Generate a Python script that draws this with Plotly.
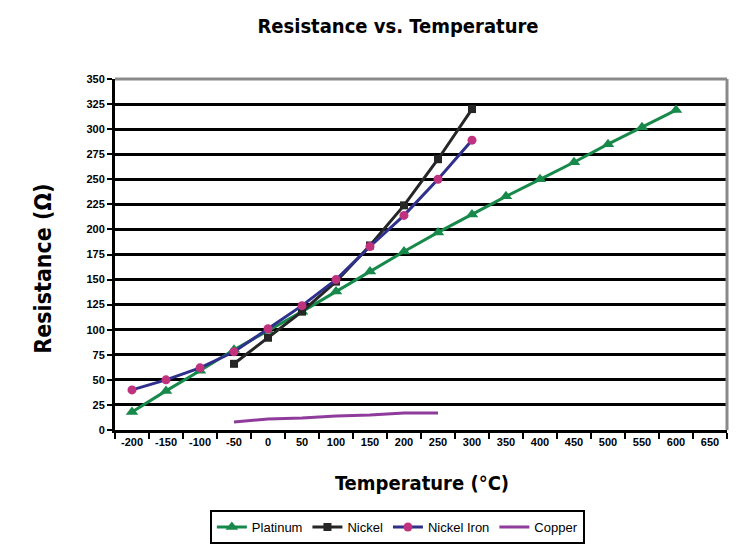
import plotly.graph_objects as go

categories = ["-200", "-150", "-100", "-50", "0", "50", "100", "150", "200",
              "250", "300", "350", "400", "450", "500", "550", "600", "650"]

platinum_x = ["-200", "-150", "-100", "-50", "0", "50", "100", "150", "200",
              "250", "300", "350", "400", "450", "500", "550", "600"]
platinum_y = [18, 39, 59, 80, 99, 118, 138, 158, 178, 197, 215, 233, 250, 267, 285, 302, 319]

nickel_x = ["-50", "0", "50", "100", "150", "200", "250", "300"]
nickel_y = [66, 92, 118, 148, 184, 224, 270, 320]

nickel_iron_x = ["-200", "-150", "-100", "-50", "0", "50", "100", "150", "200", "250", "300"]
nickel_iron_y = [40, 50, 62, 78, 101, 124, 150, 183, 214, 250, 289]

copper_x = ["-50", "0", "50", "100", "150", "200", "250"]
copper_y = [8, 11, 12, 14, 15, 17, 17]

y_ticks = list(range(0, 351, 25))

COND = "DejaVu Sans Condensed, Liberation Sans Narrow, Arial Narrow, sans-serif"
TICKF = "Liberation Sans, Arial, sans-serif"

# page has an 8px body margin, so the figure is sized to fill the remaining window
W, H = 747, 539

fig = go.Figure()
fig.add_trace(go.Scatter(
    x=platinum_x, y=platinum_y, name="Platinum", mode="lines+markers",
    line=dict(color="#17894a", width=3),
    marker=dict(symbol="triangle-up", size=11, color="#17894a")))
fig.add_trace(go.Scatter(
    x=nickel_x, y=nickel_y, name="Nickel", mode="lines+markers",
    line=dict(color="#262626", width=3),
    marker=dict(symbol="square", size=8, color="#262626")))
fig.add_trace(go.Scatter(
    x=nickel_iron_x, y=nickel_iron_y, name="Nickel Iron", mode="lines+markers",
    line=dict(color="#2f2f8c", width=3),
    marker=dict(symbol="circle", size=9, color="#c0317e")))
fig.add_trace(go.Scatter(
    x=copper_x, y=copper_y, name="Copper", mode="lines",
    line=dict(color="#8e3b9c", width=3)))

fig.update_layout(
    width=W, height=H,
    margin=dict(l=107, r=28, t=71, b=117, autoexpand=False),
    paper_bgcolor="white", plot_bgcolor="white",
    title=dict(text="<b>Resistance vs. Temperature</b>",
               font=dict(family=COND, size=20, color="black"),
               x=390 / W, xanchor="center", y=1 - 18 / H, yanchor="middle",
               xref="container", yref="container"),
    showlegend=True,
    legend=dict(orientation="h", x=0.155, xanchor="left", y=-0.228, yanchor="top",
                bordercolor="black", borderwidth=2, bgcolor="white",
                font=dict(family=TICKF, size=13, color="black"),
                itemwidth=30, tracegroupgap=0),
    xaxis=dict(type="category", categoryorder="array", categoryarray=categories,
               range=[-0.5, 17.5], tickson="boundaries", ticks="outside",
               ticklen=6, tickwidth=2, tickcolor="black",
               showline=True, linecolor="black", linewidth=3,
               showgrid=False, zeroline=False,
               tickfont=dict(family=TICKF, size=11, color="black", weight="bold")),
    yaxis=dict(range=[0, 350], tickvals=y_ticks, ticks="outside",
               ticklen=5, tickwidth=2, tickcolor="black",
               showline=True, linecolor="black", linewidth=3,
               showgrid=True, gridcolor="black", gridwidth=3, zeroline=False,
               tickfont=dict(family=TICKF, size=11, color="black", weight="bold")),
)

# gray frame on top and right
fig.add_shape(type="line", xref="paper", yref="paper", x0=0, x1=1, y0=1, y1=1,
              line=dict(color="#8a8a8a", width=3))
fig.add_shape(type="line", xref="paper", yref="paper", x0=1, x1=1, y0=0, y1=1,
              line=dict(color="#8a8a8a", width=3))

fig.add_annotation(text="<b>Resistance (Ω)</b>", xref="paper", yref="paper",
                   x=-0.119, xanchor="center", y=0.46, yanchor="middle", textangle=-90,
                   showarrow=False, font=dict(family=COND, size=23, color="black"))
fig.add_annotation(text="<b>Temperature (°C)</b>", xref="paper", yref="paper",
                   x=0.502, xanchor="center", y=-0.151, yanchor="middle",
                   showarrow=False, font=dict(family=COND, size=20, color="black"))

fig.write_html("out.html")
